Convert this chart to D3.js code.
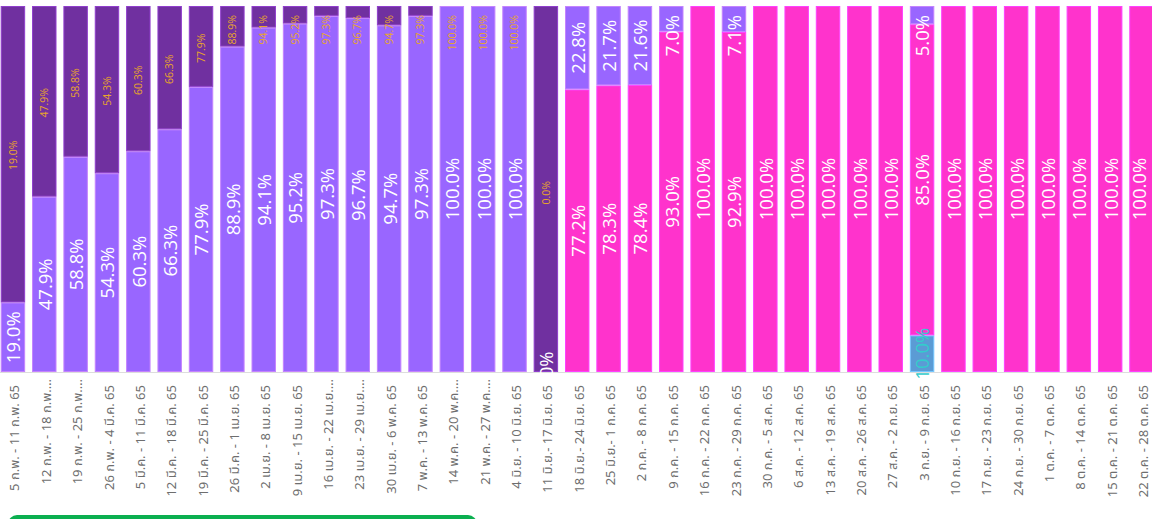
<!DOCTYPE html>
<html>
<head>
<meta charset="utf-8">
<script src="https://cdn.jsdelivr.net/npm/d3@7"></script>
<style>
  html, body { margin: 0; padding: 0; background: #fff; overflow: hidden; }
  svg { display: block; }
  .tick-label { font-family: "Segoe UI", "Noto Sans", "Noto Sans Thai", "Open Sans", sans-serif; font-size: 13px; fill: #6E6E6E; }
  .val-label { font-family: "Segoe UI", "Open Sans", "Noto Sans", sans-serif; font-size: 18.5px; font-weight: 400; }
  .rate-label { font-family: "Segoe UI", "Open Sans", "Noto Sans", sans-serif; font-size: 10.5px; fill: #E8A52A; }
</style>
</head>
<body>
<svg id="chart" width="1152" height="519"></svg>
<script>
// Weekly periods (Thai Buddhist-era year 65)
const categories = [
  "5 ก.พ. - 11 ก.พ. 65", "12 ก.พ. - 18 ก.พ. 65", "19 ก.พ. - 25 ก.พ. 65", "26 ก.พ. - 4 มี.ค. 65",
  "5 มี.ค. - 11 มี.ค. 65", "12 มี.ค. - 18 มี.ค. 65", "19 มี.ค. - 25 มี.ค. 65", "26 มี.ค. - 1 เม.ย. 65",
  "2 เม.ย. - 8 เม.ย. 65", "9 เม.ย. - 15 เม.ย. 65", "16 เม.ย. - 22 เม.ย. 65", "23 เม.ย. - 29 เม.ย. 65",
  "30 เม.ย. - 6 พ.ค. 65", "7 พ.ค. - 13 พ.ค. 65", "14 พ.ค. - 20 พ.ค. 65", "21 พ.ค. - 27 พ.ค. 65",
  "4 มิ.ย. - 10 มิ.ย. 65", "11 มิ.ย.- 17 มิ.ย. 65", "18 มิ.ย.- 24 มิ.ย. 65", "25 มิ.ย.- 1 ก.ค. 65",
  "2 ก.ค. - 8 ก.ค. 65", "9 ก.ค. - 15 ก.ค. 65", "16 ก.ค. - 22 ก.ค. 65", "23 ก.ค. - 29 ก.ค. 65",
  "30 ก.ค. - 5 ส.ค. 65", "6 ส.ค. - 12 ส.ค. 65", "13 ส.ค. - 19 ส.ค. 65", "20 ส.ค. - 26 ส.ค. 65",
  "27 ส.ค. - 2 ก.ย. 65", "3 ก.ย. - 9 ก.ย. 65", "10 ก.ย. - 16 ก.ย. 65", "17 ก.ย. - 23 ก.ย. 65",
  "24 ก.ย. - 30 ก.ย. 65", "1 ต.ค. - 7 ต.ค. 65", "8 ต.ค. - 14 ต.ค. 65", "15 ต.ค. - 21 ต.ค. 65",
  "22 ต.ค. - 28 ต.ค. 65"
];

// Axis text as shown (long ones are shortened with an ellipsis)
const tickLabels = [
  "5 ก.พ. - 11 ก.พ. 65", "12 ก.พ. - 18 ก.พ.…", "19 ก.พ. - 25 ก.พ.…", "26 ก.พ. - 4 มี.ค. 65",
  "5 มี.ค. - 11 มี.ค. 65", "12 มี.ค. - 18 มี.ค. 65", "19 มี.ค. - 25 มี.ค. 65", "26 มี.ค. - 1 เม.ย. 65",
  "2 เม.ย. - 8 เม.ย. 65", "9 เม.ย. - 15 เม.ย. 65", "16 เม.ย. - 22 เม.ย.…", "23 เม.ย. - 29 เม.ย.…",
  "30 เม.ย. - 6 พ.ค. 65", "7 พ.ค. - 13 พ.ค. 65", "14 พ.ค. - 20 พ.ค.…", "21 พ.ค. - 27 พ.ค.…",
  "4 มิ.ย. - 10 มิ.ย. 65", "11 มิ.ย.- 17 มิ.ย. 65", "18 มิ.ย.- 24 มิ.ย. 65", "25 มิ.ย.- 1 ก.ค. 65",
  "2 ก.ค. - 8 ก.ค. 65", "9 ก.ค. - 15 ก.ค. 65", "16 ก.ค. - 22 ก.ค. 65", "23 ก.ค. - 29 ก.ค. 65",
  "30 ก.ค. - 5 ส.ค. 65", "6 ส.ค. - 12 ส.ค. 65", "13 ส.ค. - 19 ส.ค. 65", "20 ส.ค. - 26 ส.ค. 65",
  "27 ส.ค. - 2 ก.ย. 65", "3 ก.ย. - 9 ก.ย. 65", "10 ก.ย. - 16 ก.ย. 65", "17 ก.ย. - 23 ก.ย. 65",
  "24 ก.ย. - 30 ก.ย. 65", "1 ต.ค. - 7 ต.ค. 65", "8 ต.ค. - 14 ต.ค. 65", "15 ต.ค. - 21 ต.ค. 65",
  "22 ต.ค. - 28 ต.ค. 65"
];

// Stacked shares in percent, bottom to top: blue, pink, light purple, dark purple (null = not present)
const blueShare = [
  null, null, null, null, null, null, null, null, null, null, null, null, null, null, null, null,
  null, null, null, null, null, null, null, null, null, null, null, null, null, 10.0, null, null,
  null, null, null, null, null
];
const pinkShare = [
  null, null, null, null, null, null, null, null, null, null, null, null, null, null, null, null,
  null, null, 77.2, 78.3, 78.4, 93.0, 100.0, 92.9, 100.0, 100.0, 100.0, 100.0, 100.0, 85.0, 100.0, 100.0,
  100.0, 100.0, 100.0, 100.0, 100.0
];
const lightPurpleShare = [
  19.0, 47.9, 58.8, 54.3, 60.3, 66.3, 77.9, 88.9, 94.1, 95.2, 97.3, 96.7, 94.7, 97.3, 100.0, 100.0,
  100.0, 0.0, 22.8, 21.7, 21.6, 7.0, null, 7.1, null, null, null, null, null, 5.0, null, null,
  null, null, null, null, null
];
const darkPurpleShare = [
  81.0, 52.1, 41.2, 45.7, 39.7, 33.7, 22.1, 11.1, 5.9, 4.8, 2.7, 3.3, 5.3, 2.7, null, null,
  null, 100.0, null, null, null, null, null, null, null, null, null, null, null, null, null, null,
  null, null, null, null, null
];
// Rate shown as small labels on a secondary (hidden) axis
const rateValues = [
  19.0, 47.9, 58.8, 54.3, 60.3, 66.3, 77.9, 88.9, 94.1, 95.2, 97.3, 96.7, 94.7, 97.3, 100.0, 100.0,
  100.0, 0.0, null, null, null, null, null, null, null, null, null, null, null, null, null, null,
  null, null, null, null, null
];

const seriesKeys = ["blue", "pink", "lightPurple", "darkPurple"];
const seriesData = { blue: blueShare, pink: pinkShare, lightPurple: lightPurpleShare, darkPurple: darkPurpleShare };
const seriesColors = { blue: "#5B9BD5", pink: "#FF33CC", lightPurple: "#9966FF", darkPurple: "#7030A0" };
const labelColors = { blue: "#33CCCC", pink: "#FFFFFF", lightPurple: "#FFFFFF", darkPurple: null };

const W = 1152, H = 519;
const plotTop = 6, plotBottom = 372;
const step = 31.35, inner = 0.22, x0 = 0.7;

const svg = d3.select("#chart");

const x = d3.scaleBand()
  .domain(categories)
  .range([x0, x0 + step * (categories.length - inner)])
  .paddingInner(inner)
  .paddingOuter(0);

const y = d3.scaleLinear().domain([0, 100]).range([plotBottom, plotTop]);
// secondary axis for the rate labels
const y2 = d3.scaleLinear().domain([0, 100]).range([204.5, 22.8]);

const rows = categories.map((c, i) => {
  const r = { cat: c };
  seriesKeys.forEach(k => r[k] = seriesData[k][i] == null ? 0 : seriesData[k][i]);
  return r;
});
const stacked = d3.stack().keys(seriesKeys)(rows);

// bars
const gBars = svg.append("g");
stacked.forEach(layer => {
  const key = layer.key;
  gBars.selectAll(null)
    .data(layer.map((d, i) => ({ d, i })).filter(o => seriesData[key][o.i] != null && seriesData[key][o.i] > 0))
    .enter().append("rect")
    .attr("x", o => x(categories[o.i]) + 0.5)
    .attr("width", x.bandwidth() - 1)
    .attr("y", o => y(o.d[1]) + 0.5)
    .attr("height", o => Math.max(0, y(o.d[0]) - y(o.d[1]) - 1))
    .attr("fill", seriesColors[key])
    .attr("stroke", d3.color(seriesColors[key]).brighter(0.7))
    .attr("stroke-width", 1);
});

// baseline
svg.append("line")
  .attr("x1", 0).attr("x2", W)
  .attr("y1", plotBottom + 0.5).attr("y2", plotBottom + 0.5)
  .attr("stroke", "#DDDDDD").attr("stroke-width", 1);

// segment value labels (kept inside the chart's width)
const gLabels = svg.append("g");
stacked.forEach(layer => {
  const key = layer.key;
  if (!labelColors[key]) return;
  layer.forEach((d, i) => {
    const v = seriesData[key][i];
    if (v == null) return;
    const cx = Math.min(x(categories[i]) + x.bandwidth() / 2, W - 13);
    let cy = (y(d[0]) + y(d[1])) / 2;
    const t = gLabels.append("text")
      .attr("class", "val-label")
      .attr("fill", labelColors[key])
      .attr("text-anchor", "middle")
      .attr("dy", "0.4em")
      .text(d3.format(".1f")(v) + "%");
    const len = t.node().getComputedTextLength();
    if (cy - len / 2 < 15) cy = 15 + len / 2;
    t.attr("transform", `translate(${cx},${cy}) rotate(-90)`);
  });
});

// rate labels
const gRate = svg.append("g");
rateValues.forEach((v, i) => {
  if (v == null) return;
  const cx = x(categories[i]) + x.bandwidth() / 2;
  let yy = y2(v);
  const t = gRate.append("text")
    .attr("class", "rate-label")
    .attr("text-anchor", "start")
    .attr("dy", "0.35em")
    .text(d3.format(".1f")(v) + "%");
  const len = t.node().getComputedTextLength();
  if (yy - len < 15) yy = 15 + len;
  t.attr("transform", `translate(${cx},${yy}) rotate(-90)`);
});

// category axis
const xAxis = d3.axisBottom(x).tickSize(0).tickFormat((c, i) => tickLabels[i]);
const gx = svg.append("g").attr("transform", `translate(0,${plotBottom})`).call(xAxis);
gx.select(".domain").remove();
gx.selectAll(".tick text")
  .attr("class", "tick-label")
  .attr("text-anchor", "end")
  .attr("dy", "0.35em")
  .attr("x", 0).attr("y", 0)
  .attr("transform", function (c, i) {
    const lift = tickLabels[i].endsWith("…") ? 6 : 0;
    return `translate(2,${13 - lift}) rotate(-90)`;
  });

// green button strip along the bottom edge
svg.append("rect")
  .attr("x", 8).attr("y", 515).attr("width", 469).attr("height", 20)
  .attr("rx", 9).attr("fill", "#0BAF50");
</script>
</body>
</html>
